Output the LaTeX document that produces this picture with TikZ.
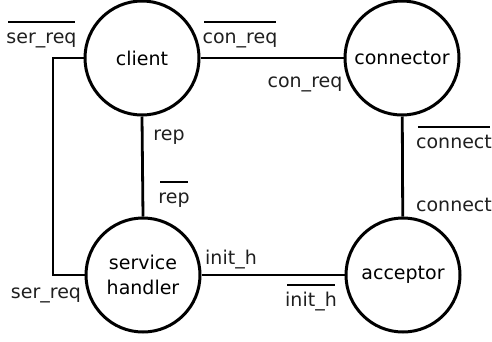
\documentclass[tikz,border=0pt]{standalone}
\usepackage{fontspec}
\setmainfont{DejaVu Sans}
\begin{document}
\begin{tikzpicture}[x=1pt,y=-1pt,
  proc/.style={circle,draw,line width=3pt,minimum size=114pt,inner sep=0pt,align=center,font=\fontsize{19}{25}\selectfont},
  lbl/.style={anchor=base,inner sep=0pt,font=\fontsize{19}{22}\selectfont,text=black!88},
  wire/.style={line width=2.8pt},
  bar/.style={line width=2.2pt}]
\useasboundingbox (0,0) rectangle (492,341);
\node[proc] (client) at (142,58) {client};
\node[proc] (connector) at (402,58) {connector};
\node[proc] (service) at (143,275) {service\\handler};
\node[proc] (acceptor) at (403,275) {acceptor};
\coordinate (bend) at (53,166);
\draw[wire] (client) -- (connector);
\draw[wire] (connector) -- (acceptor);
\draw[wire] (client.south) -- (service.north);
\draw[wire] (service) -- (acceptor);
\draw[wire] (client.west) -| (bend) |- (service.west);
% labels
\node[lbl] (l1) at (41.5,43) {ser\_req};
\node[lbl] (l2) at (240,43) {con\_req};
\node[lbl] (l3) at (305,87) {con\_req};
\node[lbl] (l4) at (169,140) {rep};
\node[lbl] (l5) at (174,203) {rep};
\node[lbl] (l6) at (454,148) {connect};
\node[lbl] (l7) at (454,211) {connect};
\node[lbl] (l8) at (231,264) {init\_h};
\node[lbl] (l9) at (311,306) {init\_h};
\node[lbl] (l10) at (46,298) {ser\_req};
\foreach \n in {l1,l2,l5,l6,l9}
  \draw[bar] ([yshift=21pt,xshift=2pt]\n.base west) -- ([yshift=21pt,xshift=-2pt]\n.base east);
\end{tikzpicture}
\end{document}
